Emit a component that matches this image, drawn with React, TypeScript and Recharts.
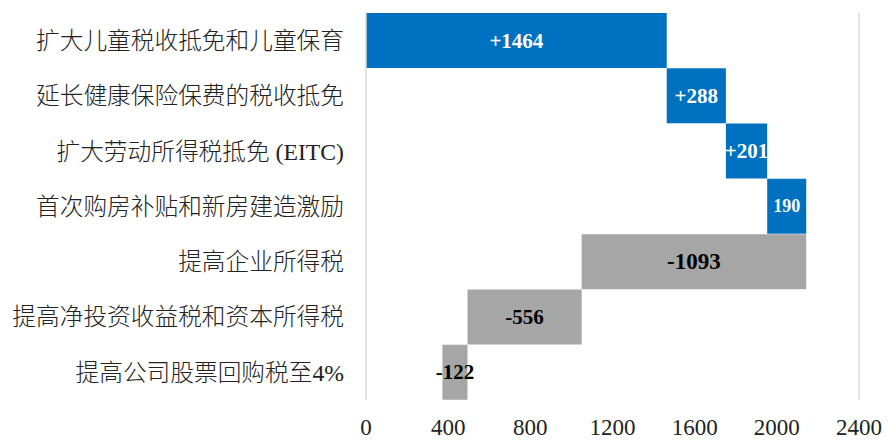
import React from 'react';
import { BarChart, Bar, XAxis, YAxis, Cell, LabelList, ReferenceLine } from 'recharts';

const categories = [
  '扩大儿童税收抵免和儿童保育',
  '延长健康保险保费的税收抵免',
  '扩大劳动所得税抵免 (EITC)',
  '首次购房补贴和新房建造激励',
  '提高企业所得税',
  '提高净投资收益税和资本所得税',
  '提高公司股票回购税至4%',
];
const deltas = [1464, 288, 201, 190, -1093, -556, -122];
const valueLabels = ['+1464', '+288', '+201', '190', '-1093', '-556', '-122'];
const xTicks = [0, 400, 800, 1200, 1600, 2000, 2400];

const BLUE = '#0070C0';
const GRAY = '#A6A6A6';
const SERIF = '"Liberation Serif", "Times New Roman", serif';
const LABEL_FONT = ['"Liberation Serif"', '"Noto Sans CJK SC"', 'serif'].join(', ');
const LABEL_SIZES = [21, 21, 21, 18, 23, 21, 21];

// running total -> invisible base + visible span
let running = 0;
const data = categories.map((name, i) => {
  const start = running;
  running += deltas[i];
  return {
    name,
    base: Math.min(start, running),
    span: Math.abs(deltas[i]),
    label: valueLabels[i],
    up: deltas[i] > 0,
  };
});

const renderValue = (props: any) => {
  const { x, y, width, height, index } = props;
  if (typeof x !== 'number' || typeof y !== 'number') return null;
  const d = data[index];
  return (
    <text
      x={x + width / 2}
      y={y + height / 2}
      fill={d.up ? '#ffffff' : '#000000'}
      textAnchor="middle"
      dominantBaseline="central"
      fontFamily={SERIF}
      fontWeight="bold"
      fontSize={LABEL_SIZES[index]}
    >
      {d.label}
    </text>
  );
};

const App: React.FC = () => {
  return (
    <div style={{ position: 'absolute', left: 0, top: 0, background: '#fff' }}>
      <BarChart
        width={888}
        height={440}
        data={data}
        layout="vertical"
        margin={{ top: 13, right: 29, bottom: 0, left: 4 }}
        barCategoryGap={0}
      >
        <XAxis
          type="number"
          domain={[0, 2400]}
          ticks={xTicks}
          axisLine={false}
          tickLine={false}
          tickSize={0}
          tickMargin={19}
          height={40}
          interval={0}
          tick={{ fill: '#222', fontSize: 23, fontFamily: SERIF }}
        />
        <YAxis
          type="category"
          dataKey="name"
          width={362}
          axisLine={false}
          tickLine={false}
          tickSize={0}
          tickMargin={22}
          interval={0}
          tick={{ fill: '#222', fontSize: 23.7, fontFamily: LABEL_FONT, fontWeight: 300 }}
        />
        <ReferenceLine x={0} stroke="#d9d9d9" strokeWidth={1.5} />
        <ReferenceLine x={2400} stroke="#d9d9d9" strokeWidth={1.5} />
        <Bar dataKey="base" stackId="w" fill="transparent" isAnimationActive={false} />
        <Bar dataKey="span" stackId="w" isAnimationActive={false}>
          {data.map((d, i) => (
            <Cell key={`c-${i}`} fill={d.up ? BLUE : GRAY} />
          ))}
          <LabelList dataKey="label" content={renderValue} />
        </Bar>
      </BarChart>
    </div>
  );
};

export default App;
